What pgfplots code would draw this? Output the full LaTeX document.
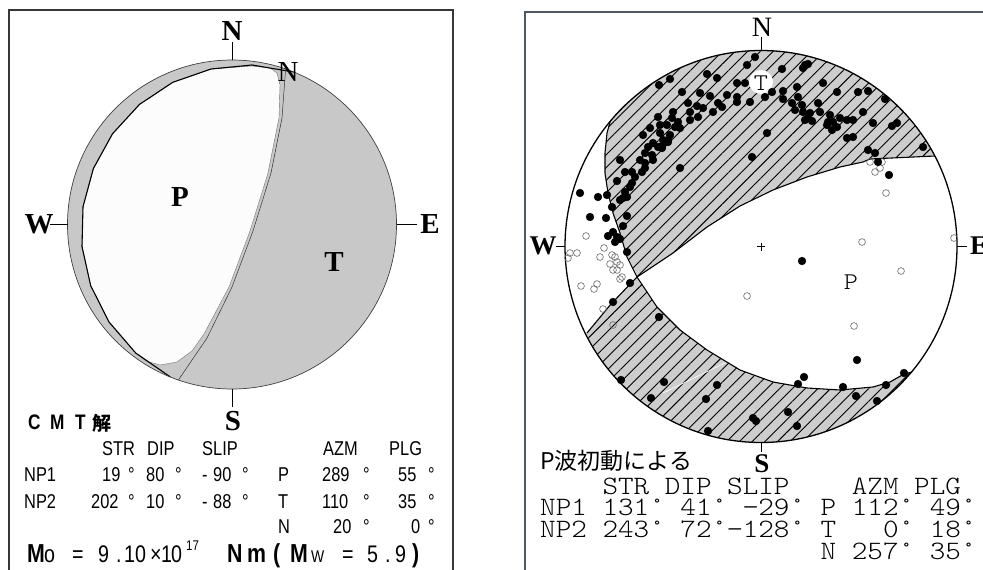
\documentclass[border=0pt]{standalone}
\usepackage{pgfplots}
\pgfplotsset{compat=1.18}
\usepackage{pgfplotstable}
\usetikzlibrary{patterns.meta}
\usepackage{fontspec}
\setmainfont{Liberation Serif}
\newfontfamily\narrow[FakeStretch=0.82]{Liberation Sans}
\newfontfamily\mono[FakeStretch=1.12]{lmmonolt10-regular.otf}
\newfontfamily\cjk{Noto Sans CJK JP}
\definecolor{lgray}{RGB}{200,200,200}
\definecolor{rgray}{RGB}{205,205,205}
\definecolor{lbox}{RGB}{55,55,55}
\definecolor{rbox}{RGB}{80,88,102}

% ---------- left panel (CMT) ----------
\pgfplotstableread{
x y
135.7 353
109 322
90.7 285.7
82 246.6
83 206.7
93.4 168.5
112.5 133.8
139.5 104.4
172.8 82.3
211 69
252 66
270 68
277 73
280 85
279 118
268 173
250 231
229 287
204 334
192 351
177 362
160 365
146 361
}\whiteP
\pgfplotstableread{
x y
170.4 377
135.7 353
109 322
90.7 285.7
82 246.6
83 206.7
93.4 168.5
112.5 133.8
139.5 104.4
172.8 82.3
211 69
252 65
293.6 72
}\npLtwo
\pgfplotstableread{
x y
285.6 69
282 118
271 173
253 231
232 287
207 338
178.4 380
}\npLone
% ---------- right panel (P first motions) ----------
\pgfplotstableread{
x y
610 122
592 100
600 30
761 20
930 40
995 156
935 156
870 159
863 162
840 167
807 177
773 190
740 206
707 227
673 253
637 277
627 257
620 233
613 213
608 193
605 173
605 153
607 133
610 122
}\upreg
\pgfplotstableread{
x y
935 156
870 159
863 162
840 167
807 177
773 190
740 206
707 227
673 253
637 277
627 257
620 233
613 213
608 193
605 173
605 153
607 133
610 122
}\upline
\pgfplotstableread{
x y
587 333
611 304
637 277
657 307
680 330
707 350
740 370
773 382
807 388
840 390
873 387
890 382
904 374
912 372
970 400
900 480
761 470
600 460
540 360
587 333
}\lowreg
\pgfplotstableread{
x y
587 333
611 304
637 277
657 307
680 330
707 350
740 370
773 382
807 388
840 390
873 387
890 382
904 374
912 372
}\lowline
\pgfplotstableread{
x y
755 57
747 65
707 74
717 78
670 79
659 85
682 92
737 83
745 83
700 93
710 96
727 95
737 97
737 102
750 102
688 103
697 106
718 103
722 107
703 108
673 112
690 112
713 112
658 117
672 118
698 117
678 122
690 120
660 125
667 125
675 127
650 128
680 128
643 135
660 133
670 135
668 140
663 140
653 143
658 147
648 147
662 148
645 153
652 155
640 160
645 163
620 160
680 168
752 157
805 65
808 64
803 68
782 69
772 92
783 91
797 87
823 83
837 92
858 92
868 91
885 99
765 97
783 99
798 97
792 103
802 105
818 103
795 110
803 112
810 113
820 112
808 118
805 120
812 121
830 115
840 118
828 122
833 122
827 125
837 127
832 130
847 120
853 120
863 112
873 123
892 126
897 123
847 138
853 137
868 150
875 153
878 162
923 147
767 133
889 175
662 146
668 142
653 160
645 168
642 172
625 172
632 172
635 177
617 181
632 183
630 187
625 192
627 197
620 200
623 198
580 193
598 197
607 195
612 207
590 217
606 218
627 216
623 226
613 232
608 236
617 237
620 239
615 242
627 252
630 283
613 302
659 317
621 380
664 382
651 398
717 385
706 399
753 418
756 421
788 412
797 426
708 431
857 360
804 377
798 384
843 387
856 396
886 385
904 373
877 401
802 261
}\filled
\pgfplotstableread{
x y
870 162
875 172
880 168
882 162
886 193
862 242
954 238
901 271
747 296
854 326
613 325
603 309
586 236
570 253
577 253
568 258
604 248
600 257
612 255
615 257
610 264
617 262
620 265
613 270
617 270
622 277
620 279
581 286
597 284
594 289
}\openpts

\newcommand\Lt[3]{\node[anchor=base west,inner sep=0pt,font=\narrow\fontsize{20}{21}\selectfont] at (axis cs:#1,#2) {#3};}
\newcommand\Lb[3]{\node[anchor=base west,inner sep=0pt,font=\narrow\bfseries\fontsize{21}{22}\selectfont] at (axis cs:#1,#2) {#3};}
\newcommand\Mt[3]{\node[anchor=base west,inner sep=0pt,font=\narrow\fontsize{24}{25}\selectfont] at (axis cs:#1,#2) {#3};}
\newcommand\Mb[3]{\node[anchor=base west,inner sep=0pt,font=\narrow\bfseries\fontsize{26}{27}\selectfont] at (axis cs:#1,#2) {#3};}
\newcommand\Rt[2]{\node[anchor=base west,inner sep=0pt,font=\mono\fontsize{26.5}{22}\selectfont] at (axis cs:540,#1) {#2};}

\begin{document}
\begin{tikzpicture}
\path[use as bounding box] (0,0) rectangle (983pt,570pt);
\begin{axis}[at={(0pt,0pt)},anchor=south west,scale only axis,
  width=983pt,height=570pt,xmin=0,xmax=983,ymin=0,ymax=570,
  y dir=reverse,hide axis,clip=false]
% ===== left panel =====
\draw[lbox,line width=1.5pt] (axis cs:9,600) -- (axis cs:9,10) -- (axis cs:453,10) -- (axis cs:453,600);
\fill[lgray] (axis cs:232,224.5) circle[radius=164.5pt];
\addplot[fill=white!99!black,draw=black!55,line width=0.4pt] table {\whiteP} -- cycle;
\addplot[black,line width=1.1pt] table {\npLtwo};
\addplot[black!80,line width=0.5pt] table {\npLone};
\draw[black!75,line width=0.7pt] (axis cs:232,224.5) circle[radius=164.5pt];
\draw[black,line width=0.7pt] (axis cs:232,42) -- (axis cs:232,60);
\draw[black,line width=0.7pt] (axis cs:232,389) -- (axis cs:232,407);
\draw[black,line width=0.7pt] (axis cs:50,224.5) -- (axis cs:67.5,224.5);
\draw[black,line width=0.7pt] (axis cs:396.5,224.5) -- (axis cs:417,224.5);
\node[font=\bfseries\fontsize{29}{29}\selectfont,inner sep=0pt] at (axis cs:232,31) {N};
\node[font=\bfseries\fontsize{29}{29}\selectfont,inner sep=0pt] at (axis cs:233,421) {S};
\node[font=\bfseries\fontsize{29}{29}\selectfont,inner sep=0pt] at (axis cs:39,224) {W};
\node[font=\bfseries\fontsize{29}{29}\selectfont,inner sep=0pt] at (axis cs:430,224) {E};
\node[font=\fontsize{29}{29}\selectfont,inner sep=0pt] at (axis cs:288,72) {N};
\node[font=\bfseries\fontsize{29}{29}\selectfont,inner sep=0pt] at (axis cs:180,197) {P};
\node[font=\bfseries\fontsize{29}{29}\selectfont,inner sep=0pt] at (axis cs:334,262) {T};
% text block
\Lb{28}{429}{C}\Lb{50}{429}{M}\Lb{75}{429}{T}
\node[anchor=base west,inner sep=0pt,font=\cjk\bfseries\fontsize{19}{20}\selectfont] at (axis cs:92,430) {解};
\Lt{102}{455.5}{STR}\Lt{147}{455.5}{DIP}\Lt{202}{455.5}{SLIP}\Lt{323}{455.5}{AZM}\Lt{389}{455.5}{PLG}
\Lt{24}{481.5}{NP1}\Lt{102}{481.5}{19}\Lt{128}{481.5}{°}\Lt{146}{481.5}{80}\Lt{175}{481.5}{°}
\Lt{202}{481.5}{-}\Lt{213}{481.5}{90}\Lt{242}{481.5}{°}\Lt{278}{481.5}{P}
\Lt{322}{481.5}{289}\Lt{363}{481.5}{°}\Lt{398}{481.5}{55}\Lt{428}{481.5}{°}
\Lt{24}{508}{NP2}\Lt{91}{508}{202}\Lt{128}{508}{°}\Lt{146}{508}{10}\Lt{175}{508}{°}
\Lt{202}{508}{-}\Lt{213}{508}{88}\Lt{242}{508}{°}\Lt{278}{508}{T}
\Lt{322}{508}{110}\Lt{363}{508}{°}\Lt{398}{508}{35}\Lt{428}{508}{°}
\Lt{278}{533.5}{N}\Lt{333}{533.5}{20}\Lt{363}{533.5}{°}\Lt{411}{533.5}{0}\Lt{428}{533.5}{°}
\Mb{27}{562}{M}\Mt{44}{562}{o}\Mt{72}{562}{=}\Mt{98}{562}{9}\Mt{116}{562}{.}\Mt{124}{562}{1}\Mt{135}{562}{0}
\Mt{150}{562}{×}\Mt{161}{562}{1}\Mt{171}{562}{0}
\node[anchor=base west,inner sep=0pt,font=\narrow\fontsize{14}{15}\selectfont] at (axis cs:186,550) {17};
\Mb{227}{562}{N}\Mb{247}{562}{m}\Mb{273}{562}{(}\Mb{290}{562}{M}
\node[anchor=base west,inner sep=0pt,font=\narrow\fontsize{17}{18}\selectfont] at (axis cs:311,562) {W};
\Mt{342}{562}{=}\Mt{367}{562}{5}\Mt{385}{562}{.}\Mt{395}{562}{9}\Mb{412}{562}{)}
% ===== right panel =====
\draw[rbox,line width=1.5pt] (axis cs:525,600) -- (axis cs:525,12) -- (axis cs:1000,12);
\begin{scope}
\clip (axis cs:761,246.5) circle[radius=196pt];
\addplot[fill=rgray,draw=none] table {\upreg} -- cycle;
\addplot[pattern={Lines[angle=45,distance=9pt,line width=0.9pt]},pattern color=black,draw=none] table {\upreg} -- cycle;
\addplot[fill=rgray,draw=none] table {\lowreg} -- cycle;
\addplot[pattern={Lines[angle=45,distance=9pt,line width=0.9pt]},pattern color=black,draw=none] table {\lowreg} -- cycle;
\end{scope}
\draw[white,line width=0.6pt] (axis cs:663,393) -- (axis cs:727,362);
\addplot[black,line width=1.1pt] table {\upline};
\addplot[black,line width=1.1pt] table {\lowline};
\draw[black,line width=1.3pt] (axis cs:761,246.5) circle[radius=196pt];
\addplot[only marks,mark=o,mark size=3.4pt,black!60,mark options={line width=0.6pt}] table {\openpts};
\addplot[only marks,mark=*,mark size=3.9pt,black] table {\filled};
\fill[white] (axis cs:761,82) circle[radius=12pt];
\node[font=\mono\fontsize{24}{24}\selectfont,inner sep=0pt] at (axis cs:761,83) {T};
\node[font=\mono\fontsize{24}{24}\selectfont,inner sep=0pt] at (axis cs:851,282) {P};
\draw[black,line width=0.6pt] (axis cs:757,246.5) -- (axis cs:765,246.5);
\draw[black,line width=0.6pt] (axis cs:761,242.5) -- (axis cs:761,250.5);
\draw[black,line width=0.7pt] (axis cs:761,37) -- (axis cs:761,50.5);
\draw[black,line width=0.7pt] (axis cs:761,442.5) -- (axis cs:761,452);
\draw[black,line width=0.7pt] (axis cs:556,246.5) -- (axis cs:565,246.5);
\draw[black,line width=0.7pt] (axis cs:957,246.5) -- (axis cs:967,246.5);
\node[font=\fontsize{28}{28}\selectfont,inner sep=0pt] at (axis cs:762,27) {N};
\node[font=\bfseries\fontsize{27}{27}\selectfont,inner sep=0pt] at (axis cs:762,464) {S};
\node[font=\bfseries\fontsize{27}{27}\selectfont,inner sep=0pt] at (axis cs:543,246) {W};
\node[font=\bfseries\fontsize{27}{27}\selectfont,inner sep=0pt,anchor=west] at (axis cs:970,246) {E};
\node[anchor=base west,inner sep=0pt,font=\cjk\fontsize{23}{25}\selectfont] at (axis cs:540,469) {P波初動による};
\Rt{494.5}{~~~~STR~DIP~SLIP~~~~AZM~PLG}
\Rt{515.5}{NP1~131°~41°~−29°~P~112°~49°}
\Rt{537.5}{NP2~243°~72°−128°~T~~~0°~18°}
\Rt{559.5}{~~~~~~~~~~~~~~~~~~N~257°~35°}
\end{axis}
\end{tikzpicture}
\end{document}
